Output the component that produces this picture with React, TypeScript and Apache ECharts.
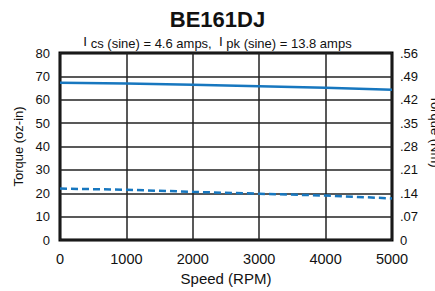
import React, { useEffect, useRef } from "react";
import * as echarts from "echarts";

const speeds = [0, 1000, 2000, 3000, 4000, 5000];
const continuousTorque = [67.3, 66.9, 66.4, 65.8, 65.1, 64.3];
const peakTorque = [22.0, 21.5, 20.6, 19.8, 19.0, 17.8];
const rightTicks = ["0", ".07", ".14", ".21", ".28", ".35", ".42", ".49", ".56"];

const FONT = "Liberation Sans, Arial, sans-serif";
const BLUE = "#1777bf";

export default function App() {
  const ref = useRef<HTMLDivElement>(null);
  useEffect(() => {
    const chart = echarts.init(ref.current!, null, { renderer: "svg" });
    chart.setOption({
      animation: false,
      backgroundColor: "#fff",
      textStyle: { fontFamily: FONT },
      title: [
        {
          left: "center",
          top: 3,
          text: "BE161DJ",
          textStyle: { fontSize: 22, fontWeight: "bold", color: "#111", fontFamily: FONT },
        },
        {
          left: "center",
          top: 29,
          text: "{i|I} cs (sine) = 4.6 amps,  {i|I} pk (sine) = 13.8 amps",
          textStyle: {
            fontSize: 13,
            fontWeight: "normal",
            color: "#111",
            fontFamily: FONT,
            rich: { i: { fontSize: 13.5, color: "#111", fontFamily: FONT, padding: [0, 0, 4, 0] } },
          },
        },
      ],
      grid: {
        left: 60,
        right: 43,
        top: 53,
        bottom: 51,
        show: true,
        borderColor: "#000",
        borderWidth: 3,
        containLabel: false,
        outerBoundsMode: "none",
      },
      xAxis: {
        type: "value",
        min: 0,
        max: 5000,
        interval: 1000,
        name: "Speed (RPM)",
        nameLocation: "middle",
        nameGap: 26,
        nameTextStyle: { fontSize: 15, color: "#111", fontFamily: FONT },
        axisLine: { show: false },
        axisTick: { show: false },
        axisLabel: { fontSize: 14.5, color: "#111", margin: 11, fontFamily: FONT, formatter: (v: number) => String(v) },
        splitLine: { show: true, lineStyle: { color: "#222", width: 1.5 } },
      },
      yAxis: [
        {
          type: "value",
          min: 0,
          max: 80,
          interval: 10,
          name: "Torque (oz-in)",
          nameLocation: "middle",
          nameGap: 33,
          nameTextStyle: { fontSize: 13, color: "#111", fontFamily: FONT },
          axisLine: { show: false },
          axisTick: { show: false },
          axisLabel: { fontSize: 13, color: "#111", margin: 10, fontFamily: FONT },
          splitLine: { show: true, lineStyle: { color: "#222", width: 1.5 } },
        },
        {
          type: "value",
          position: "right",
          min: 0,
          max: 8,
          interval: 1,
          name: "Torque (Nm)",
          nameLocation: "middle",
          nameRotate: -90,
          nameGap: 36,
          nameTextStyle: { fontSize: 13, color: "#111", fontFamily: FONT, padding: [0, 30, 0, 0] },
          axisLine: { show: false },
          axisTick: { show: false },
          axisLabel: {
            fontSize: 13,
            color: "#111",
            margin: 8,
            fontFamily: FONT,
            formatter: (v: number) => rightTicks[Math.round(v)] ?? "",
          },
          splitLine: { show: false },
        },
      ],
      series: [
        {
          type: "line",
          data: speeds.map((s, i) => [s, continuousTorque[i]]),
          showSymbol: false,
          lineStyle: { color: BLUE, width: 2.5 },
          z: 5,
        },
        {
          type: "line",
          data: speeds.map((s, i) => [s, peakTorque[i]]),
          showSymbol: false,
          lineStyle: { color: BLUE, width: 2.5, type: [7, 4] },
          z: 5,
        },
      ],
    });
    return () => chart.dispose();
  }, []);
  return <div ref={ref} style={{ width: 435, height: 291, position: "absolute", left: 0, top: 0 }} />;
}
